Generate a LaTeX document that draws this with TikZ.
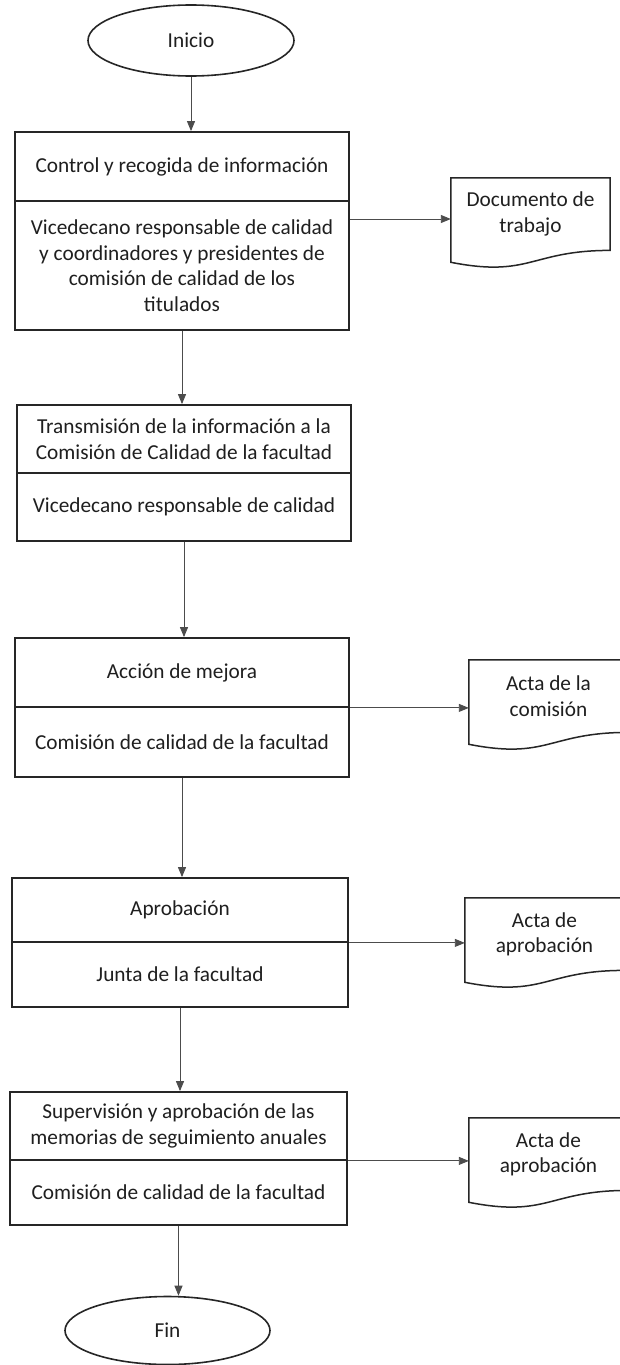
\documentclass[tikz,border=0pt]{standalone}
\usepackage{fontspec}
\setmainfont{Carlito}
\usetikzlibrary{shapes.geometric,arrows.meta,calc}
\tikzset{
  txt/.style={font=\fontsize{21.3}{25.5}\selectfont, text=black!88, align=center, inner sep=0pt},
  boxpart/.style={txt, draw=black!85, line width=1.8pt, rectangle, minimum width=334.5pt},
  term/.style={txt, draw=black!85, line width=1.6pt, ellipse, minimum width=206pt, minimum height=71pt},
  docnode/.style={txt, rectangle, minimum width=159pt, minimum height=72.2pt},
  docline/.style={draw=black!85, line width=1.5pt},
  arr/.style={draw=black!70, line width=0.9pt, -{Triangle[length=10pt,width=8pt]}}
}
\newcommand{\docshape}[1]{\draw[docline] (#1.north west) -- (#1.north east) -- (#1.south east) .. controls (#1.south) and ($(#1.south)+(0,27.5)$) .. ($(#1.south west)+(0,11.9)$) -- cycle;}
\begin{document}
\begin{tikzpicture}[x=1pt,y=-1pt]
\useasboundingbox (0,0) rectangle (620,1365);
\fill[white] (0,0) rectangle (620,1365);
% terminals
\node[term] (ini) at (191,40.5) {Inicio};
\node[term, minimum width=205pt, minimum height=68pt] (fin) at (167.5,1330.5) {Fin};
% box 1
\node[boxpart, minimum height=69pt] (b1a) at (182,166.5) {Control y recogida de información};
\node[boxpart, minimum height=129pt] (b1b) at (182,265.5) {Vicedecano responsable de calidad\\y coordinadores y presidentes de\\comisión de calidad de los\\titulados};
% box 2
\node[boxpart, minimum height=68pt] (b2a) at (184,439) {Transmisión de la información a la\\Comisión de Calidad de la facultad};
\node[boxpart, minimum height=68pt] (b2b) at (184,507) {Vicedecano responsable de calidad};
% box 3
\node[boxpart, minimum height=69pt] (b3a) at (182,672.5) {Acción de mejora};
\node[boxpart, minimum height=70pt] (b3b) at (182,742) {Comisión de calidad de la facultad};
% box 4
\node[boxpart, minimum width=336pt, minimum height=64pt] (b4a) at (180,910) {Aprobación};
\node[boxpart, minimum width=336pt, minimum height=65pt] (b4b) at (180,974.5) {Junta de la facultad};
% box 5
\node[boxpart, minimum width=337pt, minimum height=68pt] (b5a) at (178.5,1126) {Supervisión y aprobación de las\\memorias de seguimiento anuales};
\node[boxpart, minimum width=337pt, minimum height=65pt] (b5b) at (178.5,1192.5) {Comisión de calidad de la facultad};
% documents
\node[docnode] (d1) at (530.5,214.1) {Documento de\\trabajo};
\node[docnode] (d2) at (548.5,696.1) {Acta de la\\comisión};
\node[docnode] (d3) at (544.5,934.1) {Acta de\\aprobación};
\node[docnode] (d4) at (548.5,1154.1) {Acta de\\aprobación};
\docshape{d1}
\docshape{d2}
\docshape{d3}
\docshape{d4}
% vertical connectors
\draw[arr] (ini.south) -- (ini.south |- b1a.north);
\draw[arr] (b1b.south) -- (b1b.south |- b2a.north);
\draw[arr] (b2b.south) -- (b2b.south |- b3a.north);
\draw[arr] (b3b.south) -- (b3b.south |- b4a.north);
\draw[arr] (b4b.south) -- (b4b.south |- b5a.north);
\draw[arr] (b5b.south) -- (b5b.south |- fin.north);
% horizontal connectors
\draw[arr] (b1b.east |- 0,219) -- (d1.west |- 0,219);
\draw[arr] (b3a.south east) -- (d2.west |- b3a.south east);
\draw[arr] (b4a.south east) -- (d3.west |- b4a.south east);
\draw[arr] (b5a.south east) -- (d4.west |- b5a.south east);
\end{tikzpicture}
\end{document}
